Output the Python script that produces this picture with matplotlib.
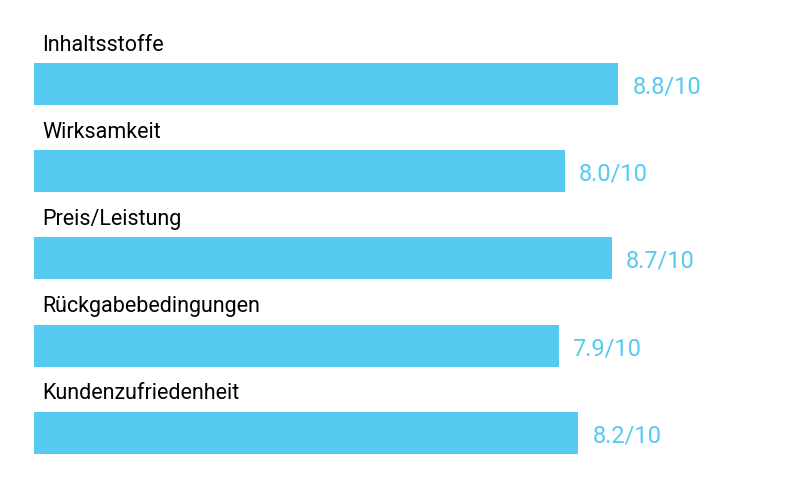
import matplotlib
matplotlib.use("Agg")
import matplotlib.pyplot as plt

# scores
categories = ["Inhaltsstoffe", "Wirksamkeit", "Preis/Leistung",
              "Rückgabebedingungen", "Kundenzufriedenheit"]
scores = [8.8, 8.0, 8.7, 7.9, 8.2]
max_score = 10

bar_color = "#55C9EF"
plt.rcParams['font.family'] = ['Roboto', 'DejaVu Sans']

fig = plt.figure(figsize=(8, 5), dpi=100)
ax = fig.add_axes([0, 0, 1, 1])

ypos = list(range(len(categories)))
ax.barh(ypos, scores, height=0.48, color=bar_color, left=0)

for i in range(len(categories)):
    ax.text(0.12, i - 0.445, categories[i], fontsize=15.5, color="black",
            ha="left", va="center")
    ax.text(scores[i] + 0.21, i + 0.035, "%.1f/%d" % (scores[i], max_score),
            fontsize=17, color=bar_color, ha="left", va="center")

ax.set_xlim(-34 / 66.4, (800 - 34) / 66.4)
ax.set_ylim((500 - 84) / 87.2, -84 / 87.2)
ax.axis("off")

fig.savefig("out.png", dpi=100)
